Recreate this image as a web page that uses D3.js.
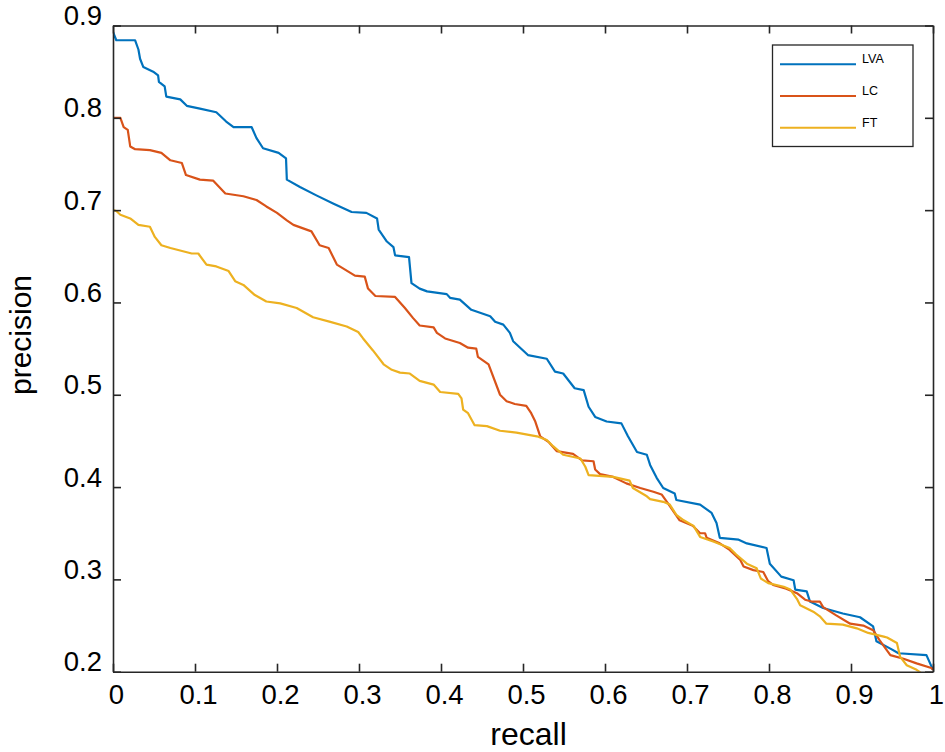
<!DOCTYPE html>
<html>
<head>
<meta charset="utf-8">
<script src="https://cdn.jsdelivr.net/npm/d3@7"></script>
<style>
  body { margin: 0; background: #fff; }
  svg { display: block; font-family: "Liberation Sans", Arial, Helvetica, sans-serif; }
</style>
</head>
<body>
<div class="chart"></div>
<script>
// precision / recall points, one list per method
var lvaPoints = [[0,0.893],[0.004,0.884],[0.027,0.884],[0.031,0.874],[0.033,0.864],[0.037,0.855],[0.049,0.850],[0.055,0.846],[0.056,0.839],[0.063,0.834],[0.065,0.823],[0.082,0.820],[0.090,0.813],[0.106,0.810],[0.126,0.806],[0.138,0.796],[0.147,0.790],[0.169,0.790],[0.175,0.778],[0.183,0.767],[0.202,0.762],[0.211,0.756],[0.212,0.733],[0.228,0.725],[0.248,0.716],[0.269,0.707],[0.291,0.698],[0.309,0.697],[0.322,0.691],[0.324,0.679],[0.334,0.666],[0.342,0.660],[0.344,0.651],[0.361,0.649],[0.364,0.621],[0.374,0.615],[0.383,0.612],[0.407,0.609],[0.411,0.605],[0.423,0.603],[0.437,0.592],[0.460,0.585],[0.466,0.579],[0.476,0.576],[0.484,0.567],[0.488,0.558],[0.506,0.543],[0.529,0.539],[0.539,0.525],[0.549,0.523],[0.563,0.507],[0.574,0.505],[0.580,0.487],[0.588,0.476],[0.602,0.471],[0.620,0.469],[0.628,0.455],[0.639,0.438],[0.651,0.435],[0.655,0.424],[0.663,0.410],[0.671,0.399],[0.685,0.393],[0.687,0.386],[0.716,0.381],[0.730,0.372],[0.736,0.361],[0.740,0.345],[0.763,0.343],[0.773,0.339],[0.797,0.334],[0.801,0.317],[0.815,0.303],[0.830,0.299],[0.832,0.289],[0.846,0.287],[0.850,0.276],[0.866,0.269],[0.890,0.263],[0.911,0.259],[0.927,0.249],[0.931,0.233],[0.948,0.225],[0.958,0.220],[0.992,0.218],[1.0,0.202]]

var lcPoints = [[0,0.800],[0.009,0.800],[0.013,0.790],[0.018,0.787],[0.021,0.769],[0.027,0.766],[0.045,0.765],[0.059,0.762],[0.070,0.754],[0.084,0.751],[0.089,0.738],[0.106,0.733],[0.122,0.732],[0.137,0.718],[0.159,0.715],[0.175,0.711],[0.187,0.704],[0.200,0.697],[0.212,0.689],[0.220,0.684],[0.242,0.677],[0.252,0.662],[0.263,0.659],[0.273,0.641],[0.295,0.629],[0.307,0.628],[0.311,0.615],[0.320,0.607],[0.344,0.606],[0.356,0.594],[0.366,0.583],[0.374,0.575],[0.391,0.573],[0.395,0.567],[0.405,0.561],[0.423,0.556],[0.433,0.551],[0.443,0.550],[0.445,0.541],[0.458,0.533],[0.472,0.500],[0.480,0.493],[0.490,0.490],[0.504,0.488],[0.510,0.480],[0.515,0.471],[0.521,0.455],[0.531,0.449],[0.541,0.439],[0.561,0.436],[0.572,0.429],[0.586,0.428],[0.588,0.419],[0.594,0.414],[0.610,0.411],[0.626,0.404],[0.643,0.399],[0.659,0.395],[0.669,0.392],[0.677,0.382],[0.691,0.364],[0.707,0.358],[0.716,0.350],[0.722,0.350],[0.724,0.345],[0.740,0.339],[0.752,0.332],[0.765,0.321],[0.769,0.314],[0.781,0.310],[0.793,0.308],[0.799,0.298],[0.805,0.294],[0.821,0.290],[0.834,0.285],[0.844,0.278],[0.852,0.276],[0.862,0.276],[0.866,0.270],[0.882,0.261],[0.899,0.252],[0.915,0.250],[0.927,0.245],[0.935,0.234],[0.948,0.218],[0.964,0.214],[0.980,0.209],[0.998,0.204],[1.0,0.202]]

var ftPoints = [[0,0.700],[0.004,0.699],[0.009,0.695],[0.021,0.691],[0.031,0.684],[0.045,0.682],[0.051,0.671],[0.059,0.662],[0.070,0.659],[0.096,0.653],[0.104,0.653],[0.114,0.641],[0.126,0.639],[0.141,0.634],[0.149,0.623],[0.159,0.619],[0.173,0.608],[0.187,0.601],[0.204,0.599],[0.224,0.594],[0.244,0.584],[0.265,0.579],[0.285,0.574],[0.299,0.568],[0.305,0.561],[0.317,0.548],[0.330,0.533],[0.340,0.527],[0.350,0.524],[0.362,0.523],[0.374,0.515],[0.391,0.511],[0.399,0.503],[0.421,0.501],[0.425,0.496],[0.427,0.484],[0.433,0.480],[0.441,0.467],[0.456,0.466],[0.472,0.461],[0.492,0.459],[0.517,0.455],[0.529,0.451],[0.537,0.444],[0.549,0.435],[0.570,0.431],[0.576,0.422],[0.580,0.413],[0.610,0.411],[0.630,0.407],[0.634,0.399],[0.651,0.390],[0.655,0.387],[0.671,0.384],[0.679,0.381],[0.687,0.370],[0.696,0.364],[0.708,0.358],[0.716,0.346],[0.732,0.341],[0.752,0.334],[0.760,0.327],[0.773,0.317],[0.785,0.312],[0.790,0.301],[0.799,0.296],[0.818,0.292],[0.826,0.289],[0.834,0.279],[0.838,0.272],[0.854,0.265],[0.862,0.260],[0.870,0.252],[0.890,0.251],[0.907,0.247],[0.921,0.242],[0.940,0.238],[0.944,0.237],[0.956,0.231],[0.960,0.216],[0.968,0.207],[0.980,0.202],[0.985,0.199]]

var seriesNames = ['LVA', 'LC', 'FT']
var seriesColors = ['#0072BD', '#D95319', '#EDB120']
var xTicks = [0, 0.1, 0.2, 0.3, 0.4, 0.5, 0.6, 0.7, 0.8, 0.9, 1]
var yTicks = [0.2, 0.3, 0.4, 0.5, 0.6, 0.7, 0.8, 0.9]

var width = 945
var height = 752
var margin = {top: 25.5, right: 12, bottom: 80.3, left: 113}
var w = width - margin.left - margin.right
var h = height - margin.top - margin.bottom
var axisColor = '#262626'

var svg = d3.select('.chart').append('svg')
    .attr('width', width)
    .attr('height', height)

var g = svg.append('g')
    .attr('transform', 'translate(' + margin.left + ',' + margin.top + ')')

var x = d3.scaleLinear().domain([0, 1]).range([0, w])
var y = d3.scaleLinear().domain([0.2, 0.9]).range([h, 0])

svg.append('defs').append('clipPath').attr('id', 'plotclip')
    .append('rect').attr('width', w).attr('height', h)

// curves
var line = d3.line()
    .x(function(d) { return x(d[0]) })
    .y(function(d) { return y(d[1]) })

var allSeries = [lvaPoints, lcPoints, ftPoints]
g.append('g').attr('clip-path', 'url(#plotclip)')
    .selectAll('path')
    .data(allSeries)
    .enter().append('path')
    .attr('d', line)
    .attr('fill', 'none')
    .attr('stroke', function(d, i) { return seriesColors[i] })
    .attr('stroke-width', 2.2)
    .attr('stroke-linejoin', 'round')

// box axes, ticks inward on all four sides
function styleAxis(sel) {
    sel.selectAll('path, line').attr('stroke', axisColor).attr('stroke-width', 1.6)
    sel.selectAll('text').attr('fill', '#000')
        .attr('font-size', 27.5)
        .attr('font-family', '"Liberation Sans", Arial, sans-serif')
}

var xAxisBottom = g.append('g').attr('transform', 'translate(0,' + h + ')')
    .call(d3.axisBottom(x).tickValues(xTicks).tickSizeInner(-8).tickSizeOuter(0)
        .tickFormat(d3.format('')))
styleAxis(xAxisBottom)
xAxisBottom.selectAll('text').attr('y', 32.5).attr('dy', 0).attr('dx', 3)

var yAxisLeft = g.append('g')
    .call(d3.axisLeft(y).tickValues(yTicks).tickSizeInner(-8).tickSizeOuter(0)
        .tickFormat(d3.format('')))
styleAxis(yAxisLeft)
yAxisLeft.selectAll('text').attr('x', -11).attr('y', -1).attr('dy', 0)

var xAxisTop = g.append('g')
    .call(d3.axisTop(x).tickValues(xTicks).tickSizeInner(-8).tickSizeOuter(0).tickFormat(''))
styleAxis(xAxisTop)

var yAxisRight = g.append('g').attr('transform', 'translate(' + w + ',0)')
    .call(d3.axisRight(y).tickValues(yTicks).tickSizeInner(-8).tickSizeOuter(0).tickFormat(''))
styleAxis(yAxisRight)

// axis titles
svg.append('text')
    .attr('x', 528.5)
    .attr('y', 745)
    .attr('text-anchor', 'middle')
    .attr('font-size', 32)
    .text('recall')

svg.append('text')
    .attr('transform', 'translate(31,335) rotate(-90)')
    .attr('text-anchor', 'middle')
    .attr('font-size', 30)
    .text('precision')

// legend
var legend = svg.append('g').attr('transform', 'translate(772.5,45)')
legend.append('rect')
    .attr('width', 140.5)
    .attr('height', 101.5)
    .attr('fill', '#fff')
    .attr('stroke', axisColor)
    .attr('stroke-width', 1.3)

var legendItems = legend.selectAll('.item')
    .data(seriesNames)
    .enter().append('g')
    .attr('class', 'item')
    .attr('transform', function(d, i) { return 'translate(0,' + (19.3 + i * 31.7) + ')' })

legendItems.append('line')
    .attr('x1', 7.5).attr('x2', 83.5)
    .attr('stroke', function(d, i) { return seriesColors[i] })
    .attr('stroke-width', 2)

legendItems.append('text')
    .attr('x', 89.5)
    .attr('y', -1)
    .attr('font-size', 12.5)
    .text(function(d) { return d })
</script>
</body>
</html>
